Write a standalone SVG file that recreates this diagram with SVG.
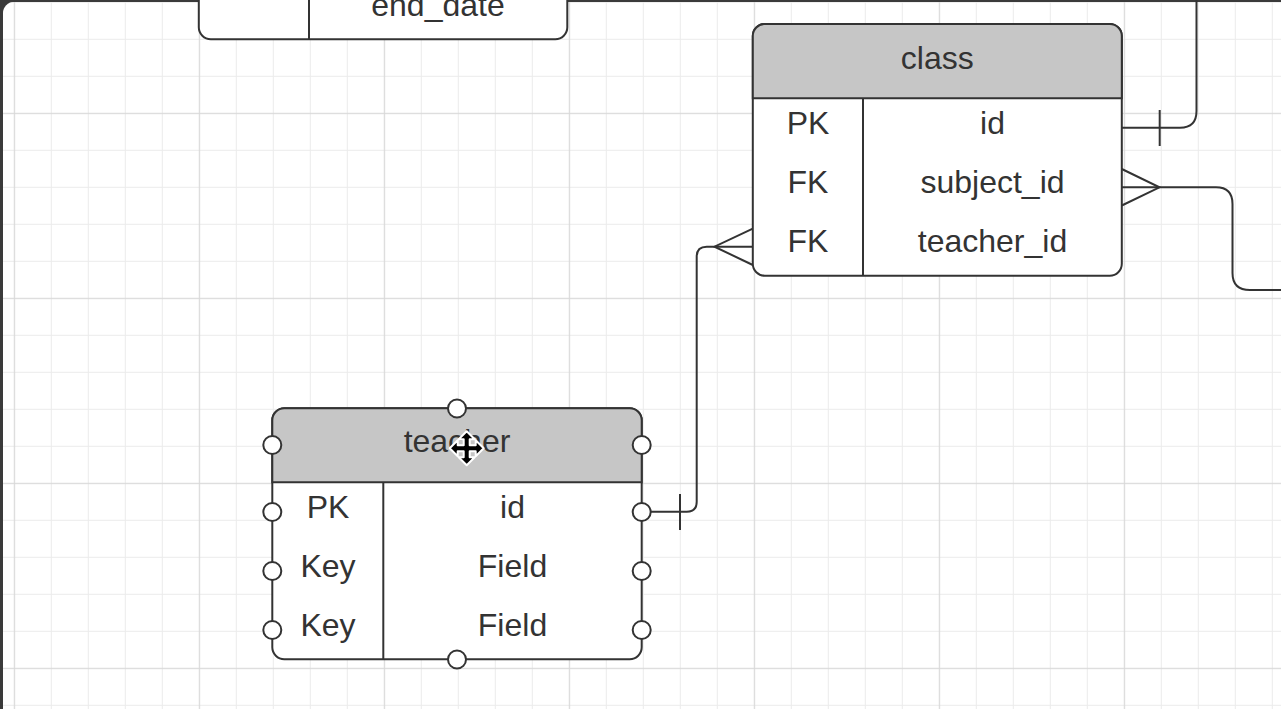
<svg xmlns="http://www.w3.org/2000/svg" width="1281" height="709" viewBox="0 0 1281 709">
  <defs>
    <pattern id="grid" patternUnits="userSpaceOnUse" x="13.8" y="-72.2" width="185" height="185">
      <rect x="37" y="0" width="1" height="185" fill="#ebebeb"/>
      <rect x="74" y="0" width="1" height="185" fill="#ebebeb"/>
      <rect x="111" y="0" width="1" height="185" fill="#ebebeb"/>
      <rect x="148" y="0" width="1" height="185" fill="#ebebeb"/>
      <rect x="0" y="37" width="185" height="1" fill="#ebebeb"/>
      <rect x="0" y="74" width="185" height="1" fill="#ebebeb"/>
      <rect x="0" y="111" width="185" height="1" fill="#ebebeb"/>
      <rect x="0" y="148" width="185" height="1" fill="#ebebeb"/>
      <rect x="0" y="0" width="1.2" height="185" fill="#d8d8d8"/>
      <rect x="0" y="0" width="185" height="1.2" fill="#d8d8d8"/>
    </pattern>
  </defs>
  <style>
    .box { fill: #ffffff; stroke: #333333; stroke-width: 2; }
    .head { fill: #c6c6c6; stroke: #333333; stroke-width: 2; }
    .ln { fill: none; stroke: #333333; stroke-width: 2; }
    .t { font-family: "Liberation Sans", Arial, sans-serif; font-size: 32px; fill: #333333; text-anchor: middle; }
    .h { fill: #ffffff; stroke: #333333; stroke-width: 2; }
  </style>

  <!-- frame and canvas -->
  <rect x="0" y="0" width="1281" height="709" fill="#3a3a3a"/>
  <rect x="3" y="2" width="1290" height="730" rx="11" fill="#ffffff"/>
  <rect x="3" y="2" width="1290" height="730" rx="11" fill="url(#grid)"/>

  <!-- connectors -->
  <g id="connectors">
    <!-- teacher.id to class.teacher_id -->
    <path class="ln" d="M641.7 511.7 H686.7 Q696.7 511.7 696.7 501.7 V256.7 Q696.7 246.7 706.7 246.7 H752.8"/>
    <path class="ln" d="M680 494 V530"/>
    <path class="ln" d="M752.8 228.7 L714.5 246.7 L752.8 265"/>
    <!-- class.id to upper table -->
    <path class="ln" d="M1121.8 127.7 H1180 Q1196.5 127.7 1196.5 111 V-5"/>
    <path class="ln" d="M1159.7 110 V146"/>
    <!-- class.subject_id to right -->
    <path class="ln" d="M1121.8 187.3 H1216 Q1232.5 187.3 1232.5 204 V273 Q1232.5 290 1250 290 H1290"/>
    <path class="ln" d="M1121.8 169 L1159.5 187.3 L1121.8 205.5"/>
  </g>

  <!-- top-left table (partially visible) -->
  <g id="upper-table">
    <rect class="box" x="198.8" y="-60" width="368.5" height="99.3" rx="12"/>
    <path class="ln" d="M309 -2 V39.3"/>
    <text class="t" x="438" y="15.5">end_date</text>
  </g>

  <!-- class table -->
  <g id="class">
    <rect class="box" x="752.8" y="24" width="369" height="251.7" rx="12"/>
    <path class="head" d="M752.8 98.3 V36 A12 12 0 0 1 764.8 24 H1109.8 A12 12 0 0 1 1121.8 36 V98.3 Z"/>
    <path class="ln" d="M863 98.3 V275.7"/>
    <text class="t" x="937.3" y="68.8">class</text>
    <text class="t" x="808" y="134.3">PK</text>
    <text class="t" x="992.5" y="134.3">id</text>
    <text class="t" x="808" y="193.3">FK</text>
    <text class="t" x="992.5" y="193.3">subject_id</text>
    <text class="t" x="808" y="252.3">FK</text>
    <text class="t" x="992.5" y="252.3">teacher_id</text>
  </g>

  <!-- teacher table (selected) -->
  <g id="teacher">
    <rect class="box" x="272.3" y="408.3" width="369.4" height="251" rx="12"/>
    <path class="head" d="M272.3 482.3 V420.3 A12 12 0 0 1 284.3 408.3 H629.7 A12 12 0 0 1 641.7 420.3 V482.3 Z"/>
    <path class="ln" d="M383.3 482.3 V659.3"/>
    <text class="t" x="457" y="452.3">teacher</text>
    <text class="t" x="328" y="518.3">PK</text>
    <text class="t" x="512.5" y="518.3">id</text>
    <text class="t" x="328" y="577.3">Key</text>
    <text class="t" x="512.5" y="577.3">Field</text>
    <text class="t" x="328" y="636.3">Key</text>
    <text class="t" x="512.5" y="636.3">Field</text>
    <g id="handles">
      <circle class="h" cx="457" cy="408.5" r="9"/>
      <circle class="h" cx="457" cy="659.5" r="9"/>
      <circle class="h" cx="272.3" cy="445" r="9"/>
      <circle class="h" cx="272.3" cy="512" r="9"/>
      <circle class="h" cx="272.3" cy="571" r="9"/>
      <circle class="h" cx="272.3" cy="630" r="9"/>
      <circle class="h" cx="641.7" cy="445" r="9"/>
      <circle class="h" cx="641.7" cy="512" r="9"/>
      <circle class="h" cx="641.7" cy="571" r="9"/>
      <circle class="h" cx="641.7" cy="630" r="9"/>
    </g>
  </g>

  <!-- move cursor -->
  <g id="cursor" transform="translate(466.7 448.3)">
    <path d="M0 -17 L8 -9 L3 -9 L3 -3 L9 -3 L9 -8 L17 0 L9 8 L9 3 L3 3 L3 9 L8 9 L0 17 L-8 9 L-3 9 L-3 3 L-9 3 L-9 8 L-17 0 L-9 -8 L-9 -3 L-3 -3 L-3 -9 L-8 -9 Z" fill="#000000" stroke="#ffffff" stroke-width="2" stroke-linejoin="round"/>
  </g>
</svg>
